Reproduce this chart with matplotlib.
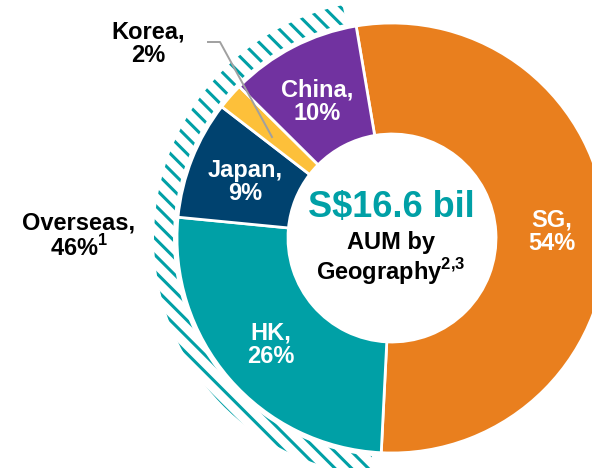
import matplotlib
matplotlib.use("Agg")
import matplotlib.pyplot as plt
from matplotlib.patches import Wedge

# data
regions = ["SG", "HK", "Japan", "Korea", "China"]
shares = [54, 26, 9, 2, 10]
colors = ["#E97F1E", "#00A0A6", "#00426F", "#FDC03A", "#7132A0"]
overseas_label = "Overseas,\n46%$^\\mathbf{1}$"
total_text = "S$16.6 bil"
sub_text = "AUM by\nGeography$^\\mathbf{2{,}3}$"

plt.rcParams["font.family"] = ["Liberation Sans", "DejaVu Sans"]
plt.rcParams["font.weight"] = "bold"
plt.rcParams["mathtext.fontset"] = "custom"
plt.rcParams["mathtext.bf"] = "Liberation Sans:bold"
plt.rcParams["mathtext.rm"] = "Liberation Sans:bold"
plt.rcParams["hatch.linewidth"] = 2.2

W, H = 592, 468
cx, cy = 392, H - 238
r_out, r_in = 215, 104

fig = plt.figure(figsize=(W / 100, H / 100), dpi=100)
ax = fig.add_axes([0, 0, 1, 1])

wedges, _ = ax.pie(shares, colors=colors, startangle=99.6, counterclock=False,
                   radius=r_out, center=(cx, cy),
                   wedgeprops=dict(width=r_out - r_in, edgecolor="white", linewidth=2))

# hatched ring around the overseas part (slightly inset at both ends)
sg = wedges[0]
ring = Wedge((cx, cy), 238, sg.theta2 + 2.4, sg.theta1 + 360 - 2.4, width=19,
             facecolor="white", edgecolor="#00A0A6", linewidth=0, hatch="\\\\")
ax.add_patch(ring)

# labels inside the ring
inner = {"SG": (552, 232), "HK": (271, 345), "Japan": (245, 182), "China": (317, 102)}
for name, val in zip(regions, shares):
    if name in inner:
        x, y = inner[name]
        ax.text(x, H - y, f"{name},\n{val}%", color="white", fontsize=17,
                ha="center", va="center", linespacing=1.05)

ax.text(148, H - 44, f"Korea,\n{shares[3]}%", color="black", fontsize=17,
        ha="center", va="center", linespacing=1.05)
ax.plot([208, 220, 272], [H - 42, H - 42, H - 137], color="#A0A0A0", lw=1.4)

ax.text(79, H - 236, overseas_label, color="black", fontsize=17,
        ha="center", va="center", linespacing=1.05)

ax.text(391, H - 208, total_text, color="#00A0A6", fontsize=26,
        ha="center", va="center")
ax.text(391, H - 259, sub_text, color="black", fontsize=17,
        ha="center", va="center", linespacing=1.05)

ax.set_xlim(0, W)
ax.set_ylim(0, H)
ax.set_aspect("equal")
ax.axis("off")

fig.savefig("out.png", dpi=100)
